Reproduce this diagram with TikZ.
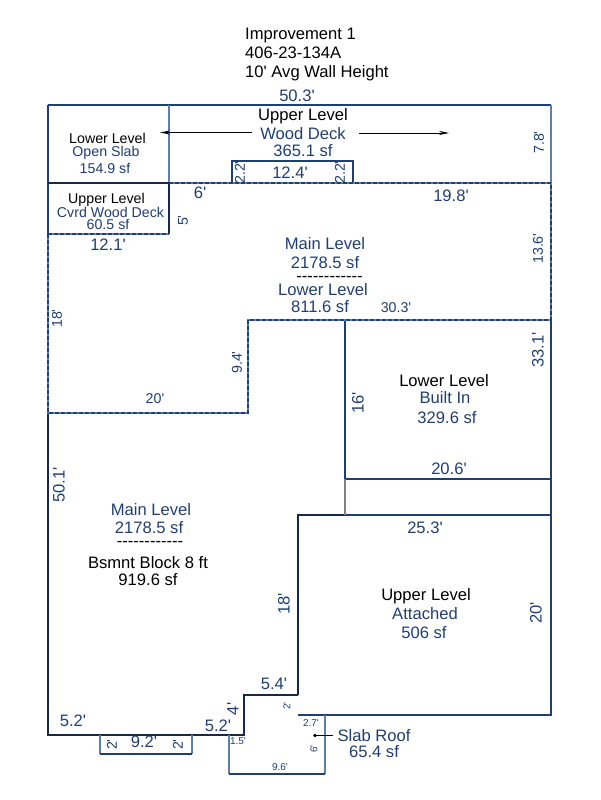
\documentclass[tikz,border=0pt]{standalone}
\usepackage{fontspec}
\setmainfont{Liberation Sans}[Ligatures=TeXOff]
\usetikzlibrary{arrows.meta}
\definecolor{navy}{HTML}{1F3F74}
\definecolor{midb}{HTML}{5B7FB0}
\definecolor{darkl}{HTML}{16294A}
\newcommand{\fs}[1]{\fontsize{#1}{#1}\selectfont}
\tikzset{
 x=1pt,y=-1pt,
 wall/.style={draw=navy,line width=1.05pt},
 light/.style={draw=midb,line width=1.05pt},
 dark/.style={draw=darkl,line width=1.1pt},
 dashbase/.style={draw=midb,line width=1.05pt},
 dashtop/.style={draw=navy,line width=1.3pt,dash pattern=on 4pt off 2pt},
 tb/.style={text=black,inner sep=0pt,font=\fs{16.6},yshift=-0.8pt},
 tn/.style={text=navy,inner sep=0pt,font=\fs{16.6},yshift=-0.8pt},
 sb/.style={text=black,inner sep=0pt,font=\fs{14.2},yshift=-0.6pt},
 sn/.style={text=navy,inner sep=0pt,font=\fs{14.2},yshift=-0.6pt},
 xs/.style={text=navy,inner sep=0pt,font=\fs{10}},
 hy/.style={text=black,inner sep=0pt,font=\fs{16.6}},
 hd/.style={text=black,inner sep=0pt,font=\fs{16.6},anchor=base west},
 ptr/.style={draw=black,line width=0.8pt,-{Stealth[length=10pt,width=4pt]}},
}
\begin{document}
\begin{tikzpicture}
\useasboundingbox (0,0) rectangle (600,800);
% solid walls
\draw[wall] (48,105) -- (551,105);
\draw[wall] (48,105) -- (48,234);
\draw[light] (551,105) -- (551,183);
\draw[light] (169,105) -- (169,183);
\draw[dark] (48,183) -- (169,183);
\draw[dark] (169,183) -- (169,234);
\draw[wall] (232,183) -- (232,161) -- (353,161) -- (353,183);
\draw[dark] (48,413) -- (48,735) -- (244,735) -- (244,695) -- (298,695);
\draw[dark] (298,695) -- (298,515) -- (345,515);
\draw[wall] (345,515) -- (551,515);
\draw[wall] (551,320) -- (551,715) -- (298,715);
\draw[wall] (345,320) -- (345,479) -- (551,479);
\draw[draw=gray,line width=1.05pt] (345,479) -- (345,515);
\draw[light] (100,735) -- (100,754);
\draw[light] (192,735) -- (192,754);
\draw[wall] (100,754) -- (192,754);
\draw[light] (229,735) -- (229,774);
\draw[light] (325,715) -- (325,774);
\draw[wall] (229,774) -- (325,774);
% dashed walls
\foreach \s in {dashbase,dashtop}{
 \draw[\s] (48,234) -- (169,234);
 \draw[\s] (48,234) -- (48,413) -- (248,413) -- (248,320) -- (551,320);
 \draw[\s] (169,183) -- (551,183) -- (551,320);
}
% pointers
\coordinate (lt) at (160,132.5);
\coordinate (ls) at (252,132.5);
\coordinate (rs) at (359,133);
\coordinate (rt) at (449,133);
\draw[ptr] (ls) -- (lt);
\draw[ptr] (rs) -- (rt);
\coordinate (dot) at (315,735.5);
\coordinate (ds) at (333,735.5);
\draw[draw=black,line width=0.8pt] (ds) -- (dot);
\fill[black] (dot) circle (1.8pt);
% header
\node[hd] (h1) at (245,39.5) {Improvement 1};
\node[hd] (h2) at (245,58.5) {406-23-134A};
\node[hd] (h3) at (245,77.5) {10' Avg Wall Height};
\node[tn] (t1) at (297,95) {50.3'};
% upper deck
\node[tb] (a1) at (303,115) {Upper Level};
\node[tn] (a2) at (303,133) {Wood Deck};
\node[tn] (a3) at (303,150) {365.1 sf};
\node[tn] (a4) at (290,172) {12.4'};
\node[sn,rotate=90] (a5) at (240,172) {2.2'};
\node[sn,rotate=90] (a6) at (340,172) {2.2'};
\node[sn,rotate=90] (a7) at (539,142) {7.8'};
% lower open slab
\node[sb] (b1) at (107.5,138) {Lower Level};
\node[sn] (b2) at (106,152) {Open Slab};
\node[sn] (b3) at (105,168) {154.9 sf};
% covered deck
\node[sb] (c1) at (106.5,199) {Upper Level};
\node[sn] (c2) at (110.5,212) {Cvrd Wood Deck};
\node[sn] (c3) at (108,223.5) {60.5 sf};
\node[tn] (c4) at (108,244) {12.1'};
\node[sn,rotate=90] (c5) at (183,220) {5'};
\node[tn] (c6) at (200,191.5) {6'};
\node[tn] (c7) at (451,195) {19.8'};
% main level
\node[tn] (d1) at (325,243) {Main Level};
\node[tn] (d2) at (325,262) {2178.5 sf};
\node[hy] (d3) at (329.5,279) {------------};
\node[tn] (d4) at (323,289) {Lower Level};
\node[tn] (d5) at (320,306) {811.6 sf};
\node[sn] (d6) at (396,307) {30.3'};
\node[sn,rotate=90] (d7) at (538,248) {13.6'};
\node[sn,rotate=90] (d8) at (57,318) {18'};
\node[sn,rotate=90] (d9) at (237,362) {9.4'};
\node[sn] (d10) at (155,398) {20'};
% built in
\node[tb] (e1) at (444,380) {Lower Level};
\node[tn] (e2) at (445,397) {Built In};
\node[tn] (e3) at (447,417) {329.6 sf};
\node[tn] (e4) at (449,468) {20.6'};
\node[tn,rotate=90] (e5) at (358,402) {16'};
\node[tn,rotate=90] (e6) at (538,349) {33.1'};
% main / basement
\node[tn,rotate=90] (f1) at (59,484) {50.1'};
\node[tn] (f2) at (151,509) {Main Level};
\node[tn] (f3) at (149,527) {2178.5 sf};
\node[hy] (f4) at (150,544) {------------};
\node[tb] (f5) at (148,562) {Bsmnt Block 8 ft};
\node[tb] (f6) at (148,579) {919.6 sf};
% attached
\node[tn] (g1) at (425,527) {25.3'};
\node[tb] (g2) at (426,595) {Upper Level};
\node[tn] (g3) at (425,613) {Attached};
\node[tn] (g4) at (424,632) {506 sf};
\node[tn,rotate=90] (g5) at (536,612) {20'};
\node[tn,rotate=90] (g6) at (284,603) {18'};
% bottom
\node[tn] (k1) at (73,720) {5.2'};
\node[tn] (k2) at (144,741) {9.2'};
\node[sn,rotate=90] (k3) at (112,744) {2'};
\node[sn,rotate=90] (k4) at (178,744) {2'};
\node[tn] (k5) at (218,725) {5.2'};
\node[tn,rotate=90] (k6) at (233,708) {4'};
\node[tn] (k7) at (274,683) {5.4'};
\node[xs,rotate=90] (k8) at (287,706) {2'};
\node[xs] (k9) at (238,741) {1.5'};
\node[xs] (k10) at (311,723) {2.7'};
\node[xs,rotate=90] (k11) at (314,749) {6'};
\node[xs] (k12) at (280,767) {9.6'};
\node[tn] (k13) at (374,735) {Slab Roof};
\node[tn] (k14) at (374,751) {65.4 sf};
\end{tikzpicture}
\end{document}
